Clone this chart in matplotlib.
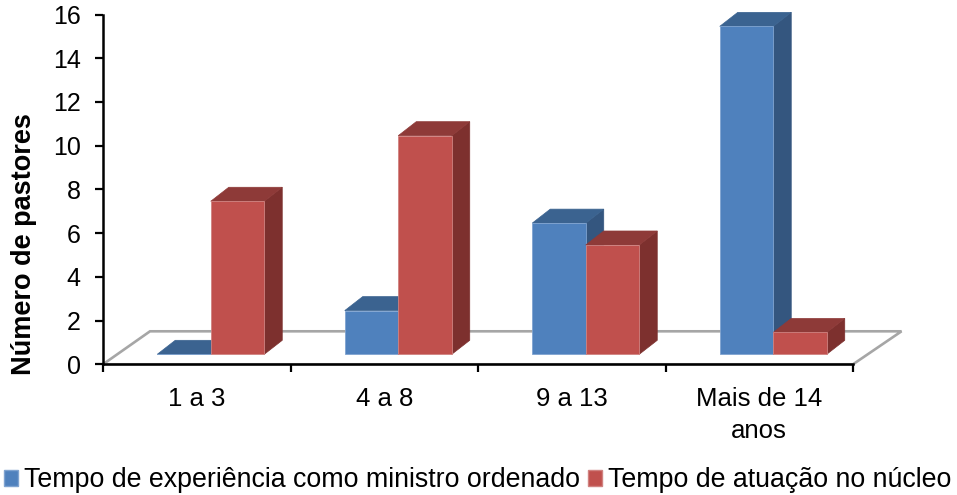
import numpy as np
import matplotlib
matplotlib.use("Agg")
import matplotlib.pyplot as plt
from matplotlib.patches import Patch, Polygon

plt.rcParams['font.family'] = ['Liberation Sans', 'DejaVu Sans']

categorias = ["1 a 3", "4 a 8", "9 a 13", "Mais de 14\nanos"]
experiencia = [0, 2, 6, 15]
atuacao = [7, 10, 5, 1]
nome_experiencia = "Tempo de experiência como ministro ordenado"
nome_atuacao = "Tempo de atuação no núcleo"
yticks = list(range(0, 17, 2))

W, H = 957, 495
topo_px, zero_px = 14.5, 364.3
fig = plt.figure(figsize=(W / 100, H / 100), dpi=100)
ax = fig.add_axes([103 / W, 1 - zero_px / H, 750 / W, (zero_px - topo_px) / H])
ax.set_xlim(0, 4)
ax.set_ylim(0, 16)

# conversao de pixels para unidades dos eixos
ux = 4 / 750
uy = 16 / (zero_px - topo_px)
larg = 53.5 * ux
prof_x, prof_y = 18 * ux, 14 * uy
base_x, base_y = 14 * ux, 10 * uy


def barras3d(xs, vals, cor, cor_topo, cor_lado, borda, z):
    for x, v in zip(xs, vals):
        x0, x1 = x, x + larg
        y0, y1 = base_y, base_y + v
        lado = [(x1, y0), (x1 + prof_x, y0 + prof_y), (x1 + prof_x, y1 + prof_y), (x1, y1)]
        topo = [(x0, y1), (x1, y1), (x1 + prof_x, y1 + prof_y), (x0 + prof_x, y1 + prof_y)]
        if v > 0:
            ax.add_patch(Polygon(lado, fc=cor_lado, ec=cor_lado, lw=0.5, clip_on=False, zorder=z))
        ax.add_patch(Polygon(topo, fc=cor_topo, ec=cor_topo, lw=0.5, clip_on=False, zorder=z))
    ax.bar(xs, vals, larg, bottom=base_y, align='edge', color=cor, edgecolor=borda,
           linewidth=0.6, clip_on=False, zorder=z + 0.5)


# piso em perspectiva
piso = [(0, 0), (4, 0), (4 + 48.5 * ux, 33 * uy), (47 * ux, 33 * uy)]
ax.add_patch(Polygon(piso, closed=True, fc='white', ec='#a6a6a6', lw=1.9, clip_on=False, zorder=1))

centros = np.arange(4) + 0.5
barras3d(centros + base_x - larg, experiencia, '#4F81BD', '#3B6390', '#34567F', '#7FA3D0', 3)
# vermelhas por cima das azuis do mesmo grupo
barras3d(centros + base_x, atuacao, '#C0504D', '#8E3A38', '#7D302E', '#D08280', 5)

for s in ['top', 'right']:
    ax.spines[s].set_visible(False)
for s in ['left', 'bottom']:
    ax.spines[s].set_linewidth(1.8)
    ax.spines[s].set_zorder(10)

ax.set_yticks(yticks)
ax.set_xticks(range(5))
ax.set_xticklabels([])
ax.set_xticks(centros, categorias, minor=True)
ax.tick_params(axis='y', labelsize=18, width=1.6, length=6, pad=10)
ax.tick_params(axis='x', which='major', width=1.6, length=6)
ax.tick_params(axis='x', which='minor', length=0, labelsize=18.5, pad=16)
for t in ax.get_xticklabels(minor=True):
    t.set_linespacing(1.45)
ax.set_ylabel("Número de pastores", fontsize=19.5, fontweight='bold')
ax.yaxis.set_label_coords(-66 / 750, 0.344)

fig.legend(handles=[Patch(fc='#4F81BD', ec='#7FA3D0', label=nome_experiencia),
                    Patch(fc='#C0504D', ec='#D08280', label=nome_atuacao)],
           ncols=2, loc='lower left', bbox_to_anchor=(2 / W, 0), frameon=False, fontsize=19.3,
           handlelength=0.53, handleheight=0.53, handletextpad=0.23, columnspacing=0.3,
           borderpad=0.06, borderaxespad=0)

fig.savefig("out.png", dpi=100)
